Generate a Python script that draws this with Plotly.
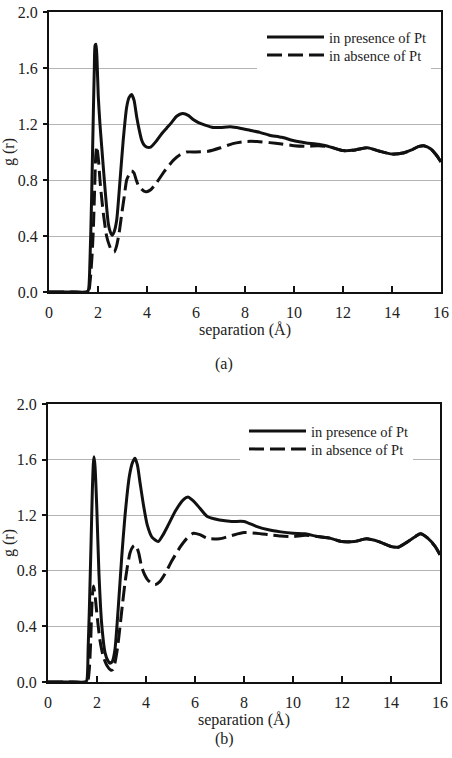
import plotly.graph_objects as go

# ---------------- data ----------------
# panel (a)
a_r_pres = [0, 1.0, 1.50, 1.60, 1.67, 1.74, 1.81, 1.85, 1.88, 1.92, 1.96, 2.01, 2.08, 2.15, 2.29, 2.42, 2.50, 2.58,
            2.66, 2.76, 2.90, 3.03, 3.17, 3.27, 3.37, 3.47, 3.58, 3.68, 3.78, 3.88, 3.99, 4.15, 4.39, 4.60, 4.80,
            5.00, 5.21, 5.45, 5.70, 5.90, 6.10, 6.40, 6.70, 7.00, 7.40, 7.80, 8.20, 8.60, 9.00, 9.50, 10.0, 10.5,
            11.0, 11.5, 12.0, 12.5, 13.0, 13.5, 14.0, 14.5, 14.8, 15.1, 15.3, 15.6, 15.8, 16.0]
a_g_pres = [0, 0, 0.00, 0.01, 0.21, 0.68, 1.28, 1.60, 1.76, 1.77, 1.66, 1.40, 1.20, 1.04, 0.73, 0.49, 0.43, 0.405,
            0.43, 0.51, 0.80, 1.086, 1.32, 1.39, 1.41, 1.37, 1.25, 1.16, 1.086, 1.05, 1.035, 1.035, 1.08, 1.13, 1.17,
            1.21, 1.255, 1.275, 1.26, 1.23, 1.21, 1.19, 1.175, 1.175, 1.18, 1.17, 1.155, 1.14, 1.12, 1.105, 1.08, 1.065,
            1.055, 1.035, 1.01, 1.015, 1.03, 1.005, 0.985, 0.995, 1.015, 1.04, 1.045, 1.02, 0.98, 0.93]

a_r_abs = [0, 1.0, 1.60, 1.68, 1.75, 1.81, 1.86, 1.91, 1.95, 1.99, 2.03, 2.08, 2.15, 2.22, 2.35, 2.47, 2.58, 2.66,
           2.76, 2.86, 2.97, 3.07, 3.17, 3.27, 3.37, 3.47, 3.56, 3.65, 3.78, 3.90, 3.99, 4.15, 4.39, 4.70, 5.07,
           5.35, 5.62, 6.0, 6.5, 7.0, 7.5, 8.0, 8.5, 9.0, 9.5, 10.0, 10.5, 11.0, 11.5, 12.0, 12.5, 13.0, 13.5,
           14.0, 14.5, 14.8, 15.1, 15.3, 15.6, 15.8, 16.0]
a_g_abs = [0, 0, 0.0, 0.08, 0.24, 0.45, 0.72, 0.98, 1.04, 0.99, 0.92, 0.80, 0.67, 0.56, 0.40, 0.33, 0.29, 0.285,
           0.33, 0.42, 0.56, 0.68, 0.80, 0.84, 0.865, 0.85, 0.80, 0.76, 0.735, 0.718, 0.716, 0.73, 0.78, 0.86, 0.94,
           0.98, 1.0, 1.0, 1.005, 1.03, 1.06, 1.075, 1.075, 1.067, 1.057, 1.045, 1.04, 1.045, 1.035, 1.01, 1.015,
           1.03, 1.005, 0.985, 0.995, 1.015, 1.04, 1.045, 1.02, 0.98, 0.93]

# panel (b)
b_r_pres = [0, 1.0, 1.50, 1.58, 1.64, 1.69, 1.76, 1.81, 1.85, 1.88, 1.92, 1.99, 2.08, 2.19, 2.33, 2.44, 2.53, 2.63,
            2.73, 2.87, 3.01, 3.14, 3.32, 3.45, 3.55, 3.65, 3.76, 3.90, 4.05, 4.25, 4.50, 4.70, 4.91, 5.20, 5.52,
            5.73, 5.95, 6.20, 6.50, 7.0, 7.5, 8.0, 8.5, 9.0, 9.5, 10.0, 10.5, 11.0, 11.5, 12.0, 12.5, 13.0, 13.5,
            14.0, 14.3, 14.6, 15.0, 15.2, 15.5, 15.8, 16.0]
b_g_pres = [0, 0, 0.0, 0.01, 0.25, 0.54, 1.02, 1.38, 1.57, 1.62, 1.55, 1.26, 0.78, 0.42, 0.21, 0.155, 0.135, 0.15,
            0.23, 0.54, 0.90, 1.19, 1.48, 1.58, 1.61, 1.56, 1.43, 1.27, 1.13, 1.04, 1.01, 1.06, 1.13, 1.23, 1.31,
            1.33, 1.30, 1.25, 1.19, 1.165, 1.155, 1.155, 1.12, 1.095, 1.08, 1.07, 1.066, 1.047, 1.035, 1.01, 1.01,
            1.03, 1.01, 0.975, 0.97, 1.0, 1.047, 1.066, 1.035, 0.975, 0.915]

b_r_abs = [0, 1.0, 1.60, 1.68, 1.74, 1.78, 1.82, 1.86, 1.91, 1.99, 2.12, 2.26, 2.40, 2.56, 2.65, 2.73, 2.84, 2.94,
           3.04, 3.14, 3.25, 3.35, 3.47, 3.58, 3.70, 3.82, 3.95, 4.09, 4.37, 4.55, 4.78, 5.05, 5.39, 5.65, 5.93,
           6.2, 6.5, 7.0, 7.5, 8.0, 8.5, 9.0, 9.5, 10.0, 10.5, 11.0, 11.5, 12.0, 12.5, 13.0, 13.5, 14.0, 14.3,
           14.6, 15.0, 15.2, 15.5, 15.8, 16.0]
b_g_abs = [0, 0, 0.0, 0.08, 0.28, 0.50, 0.64, 0.69, 0.64, 0.50, 0.30, 0.18, 0.12, 0.086, 0.09, 0.135, 0.25, 0.40,
           0.56, 0.71, 0.84, 0.93, 0.975, 0.985, 0.93, 0.83, 0.77, 0.73, 0.70, 0.72, 0.78, 0.87, 0.97, 1.03, 1.07,
           1.06, 1.035, 1.03, 1.054, 1.075, 1.07, 1.06, 1.05, 1.047, 1.055, 1.047, 1.035, 1.01, 1.01, 1.03, 1.01,
           0.975, 0.97, 1.0, 1.047, 1.066, 1.035, 0.975, 0.915]

series_names = ["in presence of Pt", "in absence of Pt"]
x_ticks = [0, 2, 4, 6, 8, 10, 12, 14, 16]
y_ticks = [0.0, 0.4, 0.8, 1.2, 1.6, 2.0]
y_tick_labels = ["0.0", "0.4", "0.8", "1.2", "1.6", "2.0"]
x_title = "separation (Å)"
y_title = "g (r)"
panel_labels = ["(a)", "(b)"]

# ---------------- figure ----------------
FONT = "Liberation Serif, Times New Roman, DejaVu Serif, serif"
INK = "#111111"
TXT = "#222222"
W, H = 452, 758

fig = go.Figure()

def add_pair(r1, g1, r2, g2, xa, ya, leg1, leg2):
    fig.add_trace(go.Scatter(x=r1, y=g1, mode="lines", name=series_names[0], xaxis=xa, yaxis=ya,
                             legend=leg1,
                             line=dict(color=INK, width=3, shape="spline", smoothing=0.6)))
    fig.add_trace(go.Scatter(x=r2, y=g2, mode="lines", name=series_names[1], xaxis=xa, yaxis=ya,
                             legend=leg2,
                             line=dict(color=INK, width=3, dash="15px,6px", shape="spline", smoothing=0.6)))

add_pair(a_r_pres, a_g_pres, a_r_abs, a_g_abs, "x", "y", "legend", "legend2")
add_pair(b_r_pres, b_g_pres, b_r_abs, b_g_abs, "x2", "y2", "legend3", "legend4")

def px_x(p):
    return p / W

def px_y(p):
    return 1 - p / H

xaxis_common = dict(range=[0, 16], tickvals=x_ticks, ticks="inside", ticklen=6, tickwidth=2, tickcolor=INK,
                    showline=True, linewidth=2, linecolor=INK, mirror=True, showgrid=False, zeroline=False,
                    automargin=False,
                    tickfont=dict(family=FONT, size=16, color=TXT), ticklabelstandoff=5,
                    title=dict(text=x_title, font=dict(family=FONT, size=16, color=TXT), standoff=4))
yaxis_common = dict(range=[0, 2.0], tickvals=y_ticks, ticktext=y_tick_labels, ticks="outside", ticklen=4,
                    tickwidth=1.5, tickcolor=INK, showline=True, linewidth=2, linecolor=INK, mirror=True,
                    showgrid=True, gridcolor="#b4b4b4", gridwidth=1, zeroline=False,
                    automargin=False,
                    tickfont=dict(family=FONT, size=16, color=TXT), ticklabelstandoff=2,
                    title=dict(text=y_title, font=dict(family=FONT, size=16, color=TXT), standoff=3))

def leg(xpx, ypx):
    return dict(x=px_x(xpx), y=px_y(ypx), xanchor="left", yanchor="middle", bgcolor="rgba(0,0,0,0)",
                font=dict(family=FONT, size=14.5, color=TXT), itemwidth=57, tracegroupgap=0)

fig.update_layout(
    width=W, height=H, margin=dict(l=0, r=0, t=0, b=0, autoexpand=False),
    paper_bgcolor="white", plot_bgcolor="white",
    xaxis=dict(domain=[px_x(49), px_x(441)], anchor="y", **xaxis_common),
    yaxis=dict(domain=[px_y(292), px_y(12)], anchor="x", **yaxis_common),
    xaxis2=dict(domain=[px_x(48), px_x(440)], anchor="y2", **xaxis_common),
    yaxis2=dict(domain=[px_y(682), px_y(404)], anchor="x2", **yaxis_common),
    legend=leg(262, 37),
    legend2=leg(262, 55),
    legend3=leg(244, 431),
    legend4=leg(244, 449),
    showlegend=True,
)

# white gap in the 1.6 gridline behind each legend, as in the original figure
fig.add_shape(type="rect", xref="paper", yref="y", x0=px_x(257), x1=px_x(431), y0=1.57, y1=1.63,
              fillcolor="white", line=dict(width=0), layer="above")
fig.add_shape(type="rect", xref="paper", yref="y2", x0=px_x(240), x1=px_x(413), y0=1.57, y1=1.63,
              fillcolor="white", line=dict(width=0), layer="above")

fig.add_annotation(text=panel_labels[0], x=px_x(224), y=px_y(364), xref="paper", yref="paper",
                   showarrow=False, font=dict(family=FONT, size=16, color=TXT))
fig.add_annotation(text=panel_labels[1], x=px_x(224), y=px_y(750), xref="paper", yref="paper",
                   showarrow=False, font=dict(family=FONT, size=16, color=TXT))

fig.write_html("out.html")
